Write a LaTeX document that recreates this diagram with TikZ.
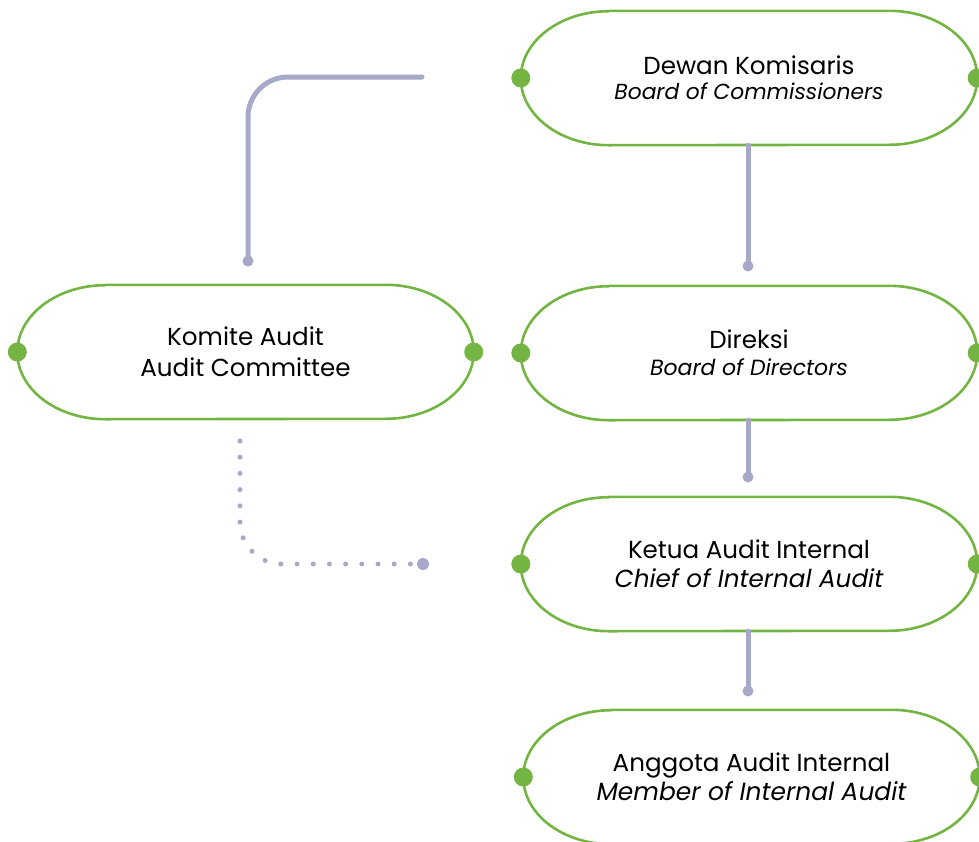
\documentclass[tikz,border=0pt]{standalone}
\usepackage{fontspec}
\setmainfont{Poppins}

\definecolor{leaf}{HTML}{74B443}
\definecolor{lilac}{HTML}{A8A8C8}

\tikzset{
    unit/.style = {minimum width = 456pt, minimum height = 134pt, inner sep = 0pt,
        align = center, font = \fontsize{24.6}{30}\selectfont},
    rim/.style = {draw = leaf, line width = 2.6pt},
    link/.style = {draw = lilac, line width = 5pt, line cap = round},
    dotlink/.style = {link, dash pattern = on 0pt off 16.2pt},
}

\newcommand{\eng}[2]{{\itshape\fontsize{#1}{30}\selectfont #2}}

\begin{document}
\begin{tikzpicture}[x = 1pt, y = 1pt]
            \useasboundingbox (0, 0) rectangle (979, -841);

            \draw
                (749, -78) node (dk) [unit] {Dewan Komisaris\\[-5pt] \eng{21.8}{Board of Commissioners}}
                (245.5, -352) node (ka) [unit] {Komite Audit\\[1pt] Audit Committee}
                (749, -353) node (dir) [unit] {Direksi\\[-3pt] \eng{22}{Board of Directors}}
                (749, -564) node (kai) [unit] {Ketua Audit Internal\\[-1pt] \eng{24.7}{Chief of Internal Audit}}
                (751.5, -777) node (aai) [unit] {Anggota Audit Internal\\[-1pt] \eng{24.9}{Member of Internal Audit}}

                (748, -266) coordinate (dkend)
                (748, -477) coordinate (dirend)
                (748, -691) coordinate (kaiend)
                (422, -77) coordinate (dkfree)
                (248, -261) coordinate (kaend)
                (240, -441) coordinate (kafree)
                (423, -564) coordinate (kaiend2)
            ;

            % pill outlines with side dots
            \foreach \b in {dk, ka, dir, kai, aai} {
                \draw[rim]
                    ([xshift = 88pt]\b.north west) -- ([xshift = -88pt]\b.north east)
                    arc[start angle = 90, end angle = -90, x radius = 88pt, y radius = 67pt]
                    -- ([xshift = 88pt]\b.south west)
                    arc[start angle = 270, end angle = 90, x radius = 88pt, y radius = 67pt];
                \fill[leaf] (\b.west) circle (9.5pt) (\b.east) circle (9.5pt);
            }

            \draw[link]
                ([xshift = -1pt]dk.south) -- (dkend)
                ([xshift = -1pt]dir.south) -- (dirend)
                ([xshift = -1pt]kai.south) -- (kaiend)
            ;
            \draw[link, rounded corners = 40pt] (dkfree) -| (kaend);
            \draw[dotlink, rounded corners = 42pt] (kafree) |- (kaiend2);

            \fill[lilac]
                (dkend) circle (5.5pt)
                (dirend) circle (5.5pt)
                (kaiend) circle (5.5pt)
                (kaend) circle (5.5pt)
                (kaiend2) circle (6pt)
            ;

        \end{tikzpicture}
\end{document}
